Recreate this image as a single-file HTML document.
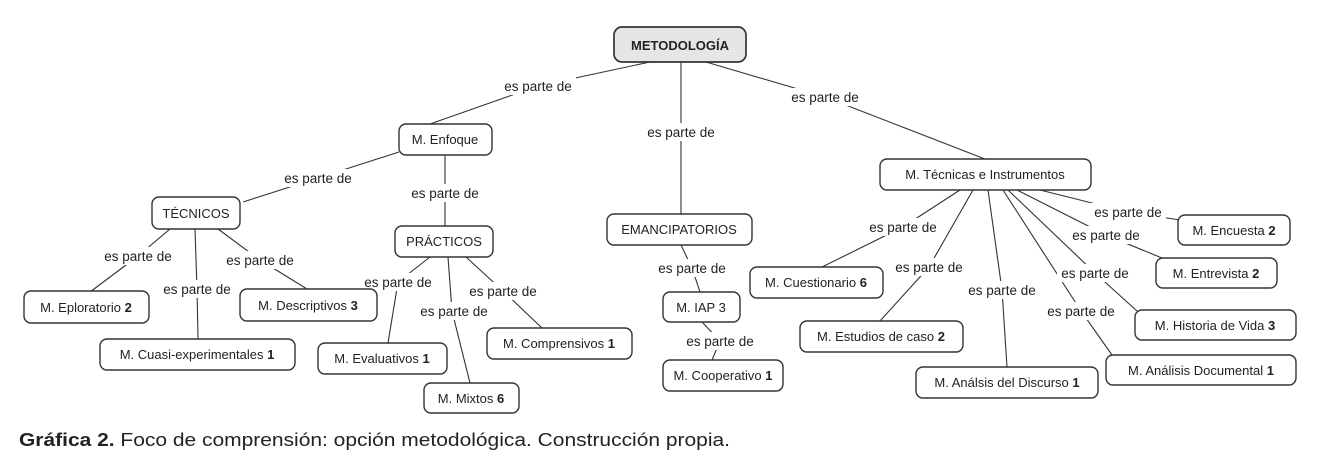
<!DOCTYPE html>
<html><head><meta charset="utf-8"><style>
html,body{margin:0;padding:0;background:#fff;}
svg{display:block;font-family:"Liberation Sans",sans-serif;}
.n{fill:#fff;stroke:#333;stroke-width:1.4;}
.t{font-size:13px;fill:#222;text-anchor:middle;}
.l{font-size:13.5px;fill:#222;text-anchor:middle;}
.c{stroke:#333;stroke-width:1.1;fill:none;}
.bg{fill:#fff;}
</style></head><body>
<svg width="1322" height="468" viewBox="0 0 1322 468">
<g class="c">
<polyline points="650,62 538,86 430,124"/>
<polyline points="681,62 681,132 681,214"/>
<polyline points="706,62 825,97 985,159"/>
<polyline points="399,152 318,178 243,202"/>
<polyline points="445,155 445,193 445,226"/>
<polyline points="170,229 138,256 90,292"/>
<polyline points="195,229 197,289 198,339"/>
<polyline points="218,229 260,260 307,289"/>
<polyline points="430,257 398,282 388,343"/>
<polyline points="448,257 452,311 470,383"/>
<polyline points="466,257 503,291 542,328"/>
<polyline points="681,245 692,268 700,292"/>
<polyline points="702,322 720,341 712,360"/>
<polyline points="960,190 903,227 822,267"/>
<polyline points="973,190 929,267 880,321"/>
<polyline points="988,190 1002,290 1007,367"/>
<polyline points="1003,190 1081,311 1112,355"/>
<polyline points="1008,190 1095,273 1137,311"/>
<polyline points="1017,190 1106,235 1162,258"/>
<polyline points="1040,190 1128,212 1180,220"/>
</g>
<g>
<rect class="bg" x="500" y="77" width="76" height="18"/><text class="l" x="538" y="91">es parte de</text>
<rect class="bg" x="643" y="123" width="76" height="18"/><text class="l" x="681" y="137">es parte de</text>
<rect class="bg" x="787" y="88" width="76" height="18"/><text class="l" x="825" y="102">es parte de</text>
<rect class="bg" x="280" y="169" width="76" height="18"/><text class="l" x="318" y="183">es parte de</text>
<rect class="bg" x="407" y="184" width="76" height="18"/><text class="l" x="445" y="198">es parte de</text>
<rect class="bg" x="100" y="247" width="76" height="18"/><text class="l" x="138" y="261">es parte de</text>
<rect class="bg" x="159" y="280" width="76" height="18"/><text class="l" x="197" y="294">es parte de</text>
<rect class="bg" x="222" y="251" width="76" height="18"/><text class="l" x="260" y="265">es parte de</text>
<rect class="bg" x="360" y="273" width="76" height="18"/><text class="l" x="398" y="287">es parte de</text>
<rect class="bg" x="416" y="302" width="76" height="18"/><text class="l" x="454" y="316">es parte de</text>
<rect class="bg" x="465" y="282" width="76" height="18"/><text class="l" x="503" y="296">es parte de</text>
<rect class="bg" x="654" y="259" width="76" height="18"/><text class="l" x="692" y="273">es parte de</text>
<rect class="bg" x="682" y="332" width="76" height="18"/><text class="l" x="720" y="346">es parte de</text>
<rect class="bg" x="865" y="218" width="76" height="18"/><text class="l" x="903" y="232">es parte de</text>
<rect class="bg" x="891" y="258" width="76" height="18"/><text class="l" x="929" y="272">es parte de</text>
<rect class="bg" x="964" y="281" width="76" height="18"/><text class="l" x="1002" y="295">es parte de</text>
<rect class="bg" x="1043" y="302" width="76" height="18"/><text class="l" x="1081" y="316">es parte de</text>
<rect class="bg" x="1057" y="264" width="76" height="18"/><text class="l" x="1095" y="278">es parte de</text>
<rect class="bg" x="1068" y="226" width="76" height="18"/><text class="l" x="1106" y="240">es parte de</text>
<rect class="bg" x="1090" y="203" width="76" height="18"/><text class="l" x="1128" y="217">es parte de</text>
</g>
<rect class="n" x="614" y="27" width="132" height="35" rx="8" style="fill:#e6e6e6;stroke-width:1.7"/><text class="t" x="680" y="50" style="font-weight:bold">METODOLOGÍA</text>
<rect class="n" x="399" y="124" width="93" height="31" rx="7"/><text class="t" x="445" y="144">M. Enfoque</text>
<rect class="n" x="152" y="197" width="88" height="32" rx="7"/><text class="t" x="196" y="218">TÉCNICOS</text>
<rect class="n" x="395" y="226" width="98" height="31" rx="7"/><text class="t" x="444" y="246">PRÁCTICOS</text>
<rect class="n" x="607" y="214" width="145" height="31" rx="7"/><text class="t" x="679" y="234">EMANCIPATORIOS</text>
<rect class="n" x="880" y="159" width="211" height="31" rx="7"/><text class="t" x="985" y="179">M. Técnicas e Instrumentos</text>
<rect class="n" x="24" y="291" width="125" height="32" rx="7"/><text class="t" x="86" y="312">M. Eploratorio <tspan font-weight="bold">2</tspan></text>
<rect class="n" x="100" y="339" width="195" height="31" rx="7"/><text class="t" x="197" y="359">M. Cuasi-experimentales <tspan font-weight="bold">1</tspan></text>
<rect class="n" x="240" y="289" width="137" height="32" rx="7"/><text class="t" x="308" y="310">M. Descriptivos <tspan font-weight="bold">3</tspan></text>
<rect class="n" x="318" y="343" width="129" height="31" rx="7"/><text class="t" x="382" y="363">M. Evaluativos <tspan font-weight="bold">1</tspan></text>
<rect class="n" x="424" y="383" width="95" height="30" rx="7"/><text class="t" x="471" y="403">M. Mixtos <tspan font-weight="bold">6</tspan></text>
<rect class="n" x="487" y="328" width="145" height="31" rx="7"/><text class="t" x="559" y="348">M. Comprensivos <tspan font-weight="bold">1</tspan></text>
<rect class="n" x="663" y="292" width="77" height="30" rx="7"/><text class="t" x="701" y="312">M. IAP 3</text>
<rect class="n" x="663" y="360" width="120" height="31" rx="7"/><text class="t" x="723" y="380">M. Cooperativo <tspan font-weight="bold">1</tspan></text>
<rect class="n" x="750" y="267" width="133" height="31" rx="7"/><text class="t" x="816" y="287">M. Cuestionario <tspan font-weight="bold">6</tspan></text>
<rect class="n" x="800" y="321" width="163" height="31" rx="7"/><text class="t" x="881" y="341">M. Estudios de caso <tspan font-weight="bold">2</tspan></text>
<rect class="n" x="916" y="367" width="182" height="31" rx="7"/><text class="t" x="1007" y="387">M. Análsis del Discurso <tspan font-weight="bold">1</tspan></text>
<rect class="n" x="1106" y="355" width="190" height="30" rx="7"/><text class="t" x="1201" y="375">M. Análisis Documental <tspan font-weight="bold">1</tspan></text>
<rect class="n" x="1135" y="310" width="161" height="30" rx="7"/><text class="t" x="1215" y="330">M. Historia de Vida <tspan font-weight="bold">3</tspan></text>
<rect class="n" x="1156" y="258" width="121" height="30" rx="7"/><text class="t" x="1216" y="278">M. Entrevista <tspan font-weight="bold">2</tspan></text>
<rect class="n" x="1178" y="215" width="112" height="30" rx="7"/><text class="t" x="1234" y="235">M. Encuesta <tspan font-weight="bold">2</tspan></text>
<text x="19" y="446" textLength="711" lengthAdjust="spacingAndGlyphs" style="font-size:18px;fill:#222;font-family:'Liberation Sans',sans-serif"><tspan font-weight="bold">Gráfica 2.</tspan> Foco  de comprensión: opción metodológica. Construcción propia.</text>
</svg>
</body></html>
